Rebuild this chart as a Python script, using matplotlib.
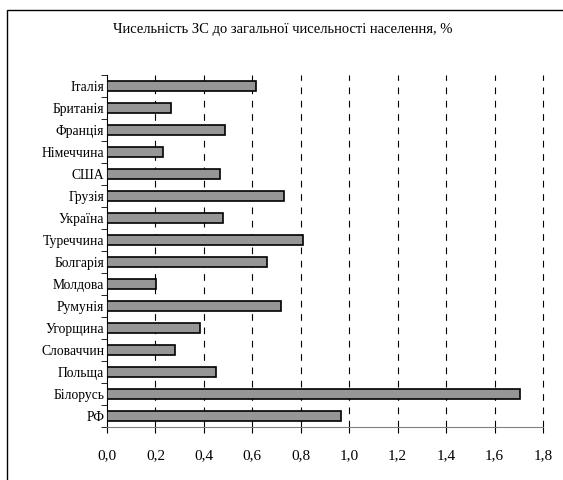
import matplotlib.pyplot as plt
import numpy as np
from matplotlib.patches import Rectangle

plt.rcParams['font.family'] = ['Liberation Serif', 'DejaVu Serif']

# Top-to-bottom as shown on the chart
countries = ['Італія', 'Британія', 'Франція', 'Німеччина', 'США', 'Грузія',
             'Україна', 'Туреччина', 'Болгарія', 'Молдова', 'Румунія',
             'Угорщина', 'Словаччин', 'Польща', 'Білорусь', 'РФ']
values = [0.615, 0.263, 0.487, 0.230, 0.467, 0.731, 0.477, 0.808, 0.659,
          0.202, 0.718, 0.384, 0.279, 0.449, 1.703, 0.966]
xticks = [0.0, 0.2, 0.4, 0.6, 0.8, 1.0, 1.2, 1.4, 1.6, 1.8]
title = 'Чисельність ЗС до загальної чисельності населення, %'

fig = plt.figure(figsize=(5.63, 4.8), dpi=100)

# outer frame (only top and left edges visible in the crop)
fig.patches.append(Rectangle((7 / 563, -0.5), 2.0, 1.5 - 10 / 480,
                             transform=fig.transFigure, fill=False,
                             edgecolor='black', linewidth=1.0))

ax = fig.add_axes([107 / 563, 1 - 427 / 480, (543 - 107) / 563, (427 - 75) / 480])

n = len(countries)
ypos = np.arange(n)[::-1]
ax.barh(ypos, values, height=0.46, color='#969696', edgecolor='black',
        linewidth=1.2, zorder=3)

ax.set_xlim(0, 1.8)
ax.set_ylim(-0.5, n - 0.5)

for x in xticks[1:]:
    ax.axvline(x, color='black', linewidth=0.8, linestyle=(0, (6, 6)),
               zorder=1, clip_on=False)

ax.set_xticks(xticks)
ax.set_xticklabels([f'{v:.1f}'.replace('.', ',') for v in xticks], fontsize=11)
ax.tick_params(axis='x', direction='out', length=4, pad=12, color='black')

ax.set_yticks(ypos)
ax.set_yticklabels(countries, fontsize=9.8)
ax.set_yticks(np.arange(-0.5, n, 1.0), minor=True)
ax.tick_params(axis='y', which='major', length=0, pad=2)
ax.tick_params(axis='y', which='minor', direction='out', length=4, color='black')

ax.spines['top'].set_visible(False)
ax.spines['right'].set_visible(False)
ax.spines['left'].set_color('black')
ax.spines['bottom'].set_color('#808080')

fig.text(283 / 563, 1 - 30 / 480, title, ha='center', va='center', fontsize=10.5)

fig.savefig('out.png', dpi=100)
